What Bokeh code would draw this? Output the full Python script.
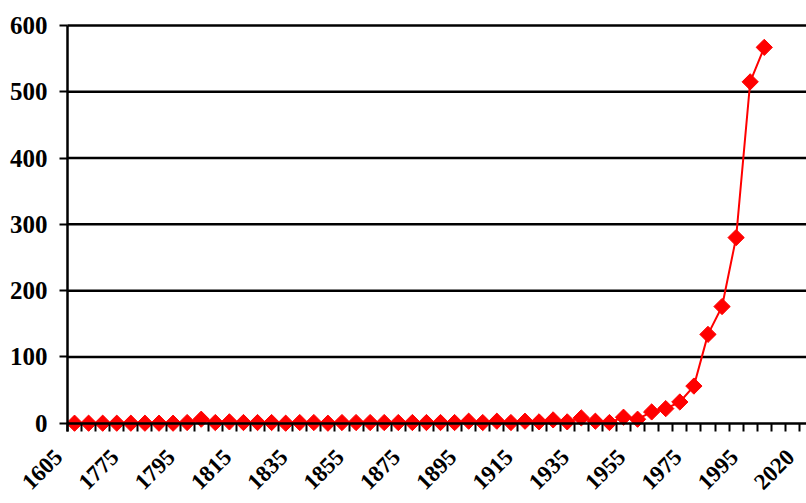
import math
from bokeh.plotting import figure
from bokeh.models import Range1d, FixedTicker, ColumnDataSource
from bokeh.core.properties import value
from bokeh.embed import file_html
from bokeh.resources import INLINE

# Categories (x axis), one per period; the chart is cropped after the last one
categories = [
    "1605", "1760", "1765", "1770", "1775", "1780", "1785", "1790", "1795",
    "1800", "1805", "1810", "1815", "1820", "1825", "1830", "1835", "1840",
    "1845", "1850", "1855", "1860", "1865", "1870", "1875", "1880", "1885",
    "1890", "1895", "1900", "1905", "1910", "1915", "1920", "1925", "1930",
    "1935", "1940", "1945", "1950", "1955", "1960", "1965", "1970", "1975",
    "1980", "1985", "1990", "1995", "2000", "2005", "2010", "2020",
]

# Series values (first 50 categories carry data)
values = [
    0, 0, 0, 0, 0, 0, 0, 0, 1, 6,
    1, 2, 1, 1, 1, 0, 1, 1, 0, 1,
    1, 1, 1, 1, 1, 1, 1, 1, 3, 1,
    3, 1, 3, 2, 5, 2, 8, 3, 1, 9,
    6, 17, 22, 32, 56, 134, 176, 280, 515, 567,
]

y_ticks = [0, 100, 200, 300, 400, 500, 600]
label_step = 4

# ---- layout (pixels) ----
W, H = 806, 503
AXIS_X = 67.0          # screen x of the value axis
ZERO_Y = 422.7         # screen y of value 0
TOP_Y = 25.0           # screen y of value 600
X_END = len(categories) - 0.5   # the chart is cut at the middle of the last category
Y_MAX = y_ticks[-1]
Y_LOW = -12.5          # bottom of the value axis line

px_per_cat = (W - AXIS_X) / X_END
px_per_val = (ZERO_Y - TOP_Y) / Y_MAX

cat_x = [i + 0.5 for i in range(len(categories))]
label_idx = list(range(0, len(categories), label_step))
boundaries = list(range(0, len(categories) + 1))

src = ColumnDataSource(dict(x=cat_x[:len(values)], y=values))
lab_src = ColumnDataSource(dict(
    x=[cat_x[i] for i in label_idx],
    y=[0] * len(label_idx),
    text=[categories[i] for i in label_idx],
))
grid_src = ColumnDataSource(dict(
    x0=[0] * (len(y_ticks) - 1), x1=[X_END] * (len(y_ticks) - 1),
    y=y_ticks[1:],
))

FONT = "Liberation Serif"

p = figure(
    width=W, height=H, title=None,
    x_range=Range1d(-AXIS_X / px_per_cat, X_END),
    y_range=Range1d(-(H - ZERO_Y) / px_per_val, Y_MAX + TOP_Y / px_per_val),
    output_backend="svg", toolbar_location=None,
    min_border_left=0, min_border_right=0, min_border_top=0, min_border_bottom=0,
)
p.outline_line_color = None
p.background_fill_color = "white"
p.border_fill_color = "white"
p.xgrid.visible = False
p.ygrid.visible = False

# horizontal gridlines, from the value axis to the right edge
p.segment(x0="x0", x1="x1", y0="y", y1="y", source=grid_src,
          line_color="black", line_width=2.5)

# value axis
ya = p.yaxis[0]
ya.fixed_location = 0
ya.bounds = (Y_LOW, Y_MAX)
ya.ticker = FixedTicker(ticks=y_ticks)
ya.axis_line_color = "black"
ya.axis_line_width = 2.5
ya.major_tick_in = 0
ya.major_tick_out = 8
ya.major_tick_line_width = 2
ya.minor_tick_line_color = None
ya.major_label_text_font = FONT
ya.major_label_text_font_style = "bold"
ya.major_label_text_font_size = "25px"
ya.major_label_text_color = "black"
ya.major_label_standoff = 12

# category axis: line at zero, tick marks at category boundaries
xa = p.xaxis[0]
xa.fixed_location = 0
xa.bounds = (0, X_END)
xa.ticker = FixedTicker(ticks=[], minor_ticks=boundaries)
xa.axis_line_color = "black"
xa.axis_line_width = 2.5
xa.major_tick_line_color = None
xa.minor_tick_line_color = "black"
xa.minor_tick_line_width = 2
xa.minor_tick_in = 0
xa.minor_tick_out = 8

# rotated category labels (every 4th category)
p.text(x="x", y="y", text="text", source=lab_src,
       angle=math.pi / 4, x_offset=-16, y_offset=30,
       text_align="right", text_baseline="middle",
       text_font=value(FONT), text_font_style="bold",
       text_font_size=value("23px"), text_color="black")

p.line("x", "y", source=src, line_color="#ff0000", line_width=2)
p.scatter("x", "y", source=src, marker="square", size=11.5, angle=math.pi / 4,
          fill_color="#ff0000", line_color="#ff0000")

open("out.html", "w").write(file_html(p, INLINE))
